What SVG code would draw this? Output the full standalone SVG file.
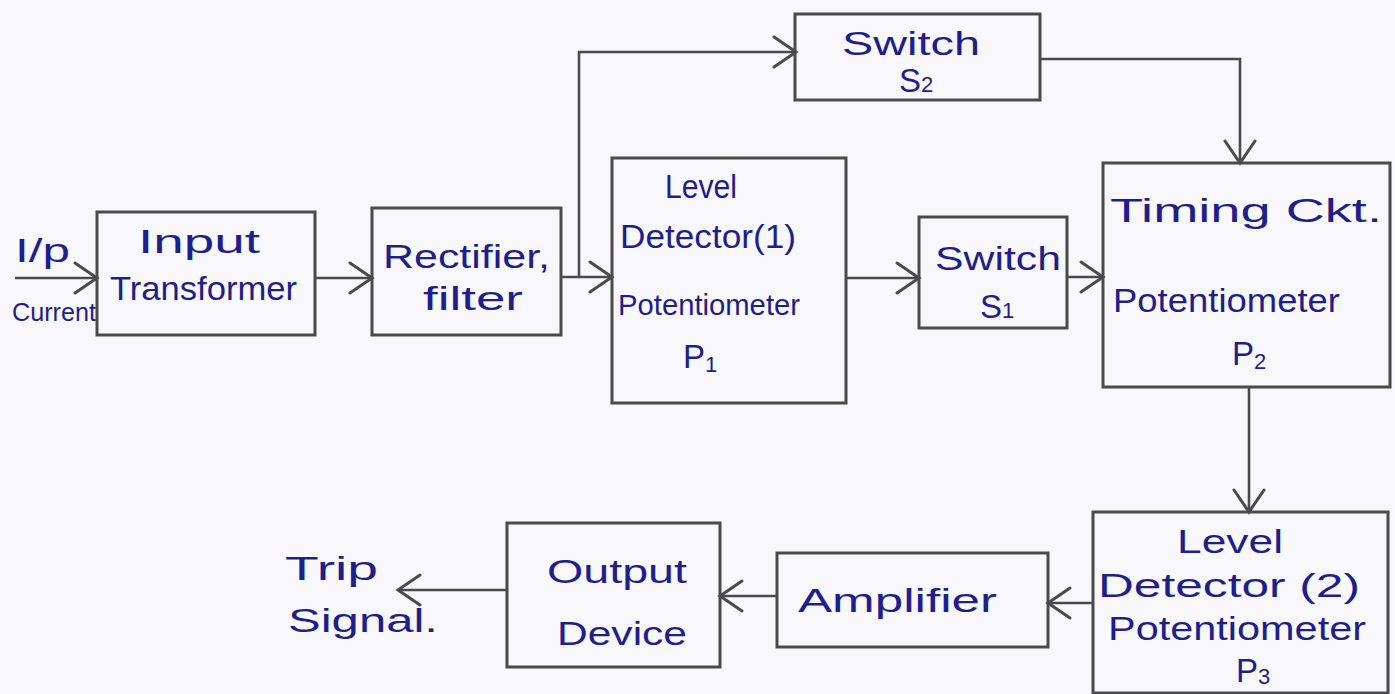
<svg xmlns="http://www.w3.org/2000/svg" width="1395" height="694" viewBox="0 0 1395 694">
<style>
.box{fill:none;stroke:#4a4a4a;stroke-width:3}
.con{fill:none;stroke:#4a4a4a;stroke-width:2.6;marker-end:url(#ah)}
.lbl{font-family:"Liberation Sans",Arial,sans-serif;fill:#1e1e8c;font-size:33px;text-anchor:start}
.sub{font-size:22px}
</style>
<defs>
<marker id="ah" markerUnits="userSpaceOnUse" viewBox="-2 -2 28 34" markerWidth="28" markerHeight="34" refX="22" refY="15" orient="auto">
<path d="M0 0 L22 15 L0 30" fill="none" stroke="#4a4a4a" stroke-width="3" stroke-linecap="round"/>
</marker>
</defs>
<rect width="1395" height="694" fill="#f8f7fb"/>
<g id="connectors">
<path class="con" d="M15 278 H97"/>
<path class="con" d="M315 278 H372"/>
<path class="con" d="M561 277 H612"/>
<path class="con" d="M579 277 V52 H796"/>
<path class="con" d="M846 278 H919"/>
<path class="con" d="M1067 277 H1103"/>
<path class="con" d="M1040 59 H1240 V163"/>
<path class="con" d="M1249 387 V512"/>
<path class="con" d="M1093 603 H1048"/>
<path class="con" d="M777 596 H720"/>
<path class="con" d="M507 590 H398"/>
</g>
<g id="input-label">
<text class="lbl" x="15" y="262" textLength="55" lengthAdjust="spacingAndGlyphs">I/p</text>
<text class="lbl" x="12" y="321" style="font-size:25px" textLength="84" lengthAdjust="spacingAndGlyphs">Current</text>
</g>
<g id="input-transformer">
<rect class="box" x="97" y="212" width="218" height="123"/>
<text class="lbl" x="138" y="253" textLength="122" lengthAdjust="spacingAndGlyphs">Input</text>
<text class="lbl" x="110" y="300" textLength="187" lengthAdjust="spacingAndGlyphs">Transformer</text>
</g>
<g id="rectifier-filter">
<rect class="box" x="372" y="208" width="189" height="127"/>
<text class="lbl" x="383" y="268" textLength="167" lengthAdjust="spacingAndGlyphs">Rectifier,</text>
<text class="lbl" x="423" y="310" textLength="100" lengthAdjust="spacingAndGlyphs">filter</text>
</g>
<g id="level-detector-1">
<rect class="box" x="612" y="158" width="234" height="245"/>
<text class="lbl" x="665" y="198" textLength="72" lengthAdjust="spacingAndGlyphs">Level</text>
<text class="lbl" x="620" y="248" textLength="176" lengthAdjust="spacingAndGlyphs">Detector(1)</text>
<text class="lbl" x="618" y="315" style="font-size:29px" textLength="182" lengthAdjust="spacingAndGlyphs">Potentiometer</text>
<text class="lbl" x="683" y="368">P<tspan class="sub" dy="4">1</tspan></text>
</g>
<g id="switch-s2">
<rect class="box" x="795" y="14" width="245" height="86"/>
<text class="lbl" x="842" y="55" textLength="138" lengthAdjust="spacingAndGlyphs">Switch</text>
<text class="lbl" x="899" y="92">S<tspan class="sub">2</tspan></text>
</g>
<g id="switch-s1">
<rect class="box" x="919" y="217" width="148" height="111"/>
<text class="lbl" x="935" y="270" textLength="126" lengthAdjust="spacingAndGlyphs">Switch</text>
<text class="lbl" x="980" y="318">S<tspan class="sub">1</tspan></text>
</g>
<g id="timing-circuit">
<rect class="box" x="1103" y="163" width="287" height="224"/>
<text class="lbl" x="1110" y="222" textLength="272" lengthAdjust="spacingAndGlyphs">Timing Ckt.</text>
<text class="lbl" x="1113" y="312" textLength="227" lengthAdjust="spacingAndGlyphs">Potentiometer</text>
<text class="lbl" x="1232" y="365">P<tspan class="sub" dy="4">2</tspan></text>
</g>
<g id="level-detector-2">
<rect class="box" x="1093" y="512" width="295" height="181"/>
<text class="lbl" x="1177" y="553" textLength="106" lengthAdjust="spacingAndGlyphs">Level</text>
<text class="lbl" x="1098" y="597" textLength="262" lengthAdjust="spacingAndGlyphs">Detector (2)</text>
<text class="lbl" x="1108" y="640" textLength="258" lengthAdjust="spacingAndGlyphs">Potentiometer</text>
<text class="lbl" x="1236" y="682">P<tspan class="sub" dy="2">3</tspan></text>
</g>
<g id="amplifier">
<rect class="box" x="777" y="553" width="271" height="94"/>
<text class="lbl" x="798" y="612" textLength="199" lengthAdjust="spacingAndGlyphs">Amplifier</text>
</g>
<g id="output-device">
<rect class="box" x="507" y="523" width="213" height="144"/>
<text class="lbl" x="547" y="583" textLength="140" lengthAdjust="spacingAndGlyphs">Output</text>
<text class="lbl" x="557" y="645" textLength="130" lengthAdjust="spacingAndGlyphs">Device</text>
</g>
<g id="trip-signal">
<text class="lbl" x="285" y="580" textLength="93" lengthAdjust="spacingAndGlyphs">Trip</text>
<text class="lbl" x="288" y="632" textLength="150" lengthAdjust="spacingAndGlyphs">Signal.</text>
</g>
</svg>
